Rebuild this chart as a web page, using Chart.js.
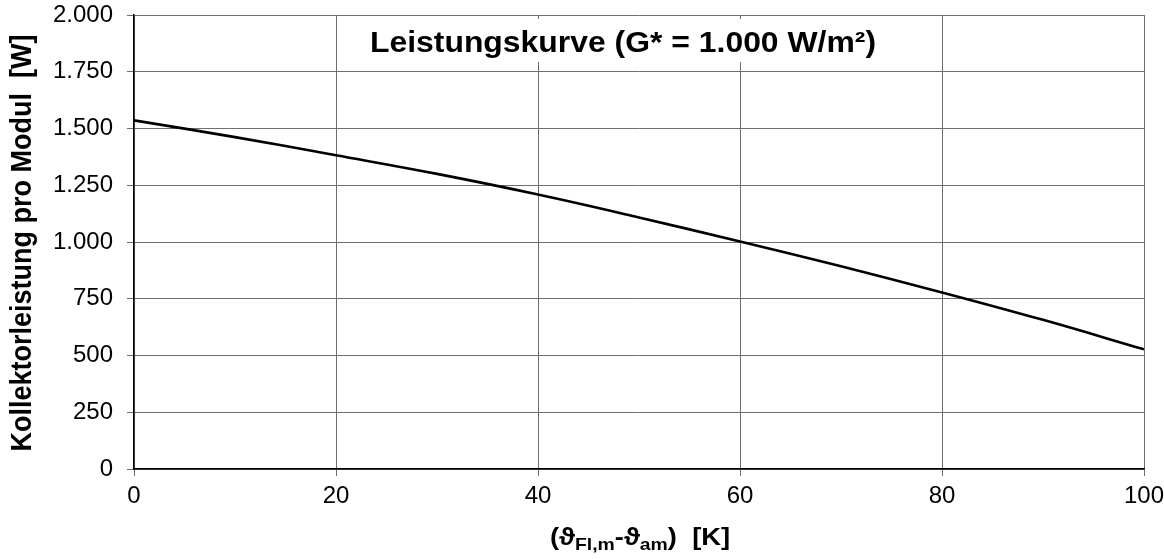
<!DOCTYPE html>
<html>
<head>
<meta charset="utf-8">
<script src="https://cdn.jsdelivr.net/npm/chart.js@4/dist/chart.umd.min.js"></script>
<style>
  html, body { margin: 0; padding: 0; background: #fff; }
  #wrap { width: 1164px; height: 559px; position: relative; }
</style>
</head>
<body>
<div id="wrap"><canvas id="chart"></canvas></div>
<script>
// Temperaturdifferenz (K) und Kollektorleistung pro Modul (W)
const deltaT = [0, 10, 20, 30, 40, 50, 60, 70, 80, 90, 100];
const leistung = [1536, 1462, 1382, 1300, 1209, 1108, 1002, 893, 778, 657, 527];

const xTicks = [0, 20, 40, 60, 80, 100];
const yTicks = [0, 250, 500, 750, 1000, 1250, 1500, 1750, 2000];

const chartTitle = 'Leistungskurve (G* = 1.000 W/m²)';
const yTitle = 'Kollektorleistung pro Modul  [W]';
// x-axis title pieces: [text, subscript?]
const xTitleParts = [['(ϑ', false], ['Fl,m', true], ['-ϑ', false], ['am', true], [')  [K]', false]];

const FONT = '"Liberation Sans", Arial, Helvetica, sans-serif';
const GRID = '#6f6f6f';

function fmtDE(v) {
  return String(v).replace(/\B(?=(\d{3})+(?!\d))/g, '.');
}

const labelsPlugin = {
  id: 'labels',
  afterDraw(chart) {
    const ctx = chart.ctx;
    const area = chart.chartArea;
    ctx.save();

    // Titel im Diagramm mit weißem Hintergrund
    ctx.font = 'bold 29px ' + FONT;
    const sx = 1.1;
    const tw = ctx.measureText(chartTitle).width * sx;
    const cx = 623;
    ctx.fillStyle = '#fff';
    ctx.fillRect(cx - tw / 2 - 8, 19, tw + 16, 43);
    ctx.fillStyle = '#000';
    ctx.textAlign = 'left';
    ctx.textBaseline = 'alphabetic';
    ctx.save();
    ctx.translate(cx - tw / 2, 52);
    ctx.scale(sx, 1);
    ctx.fillText(chartTitle, 0, 0);
    ctx.restore();

    // y-Achsentitel
    ctx.save();
    ctx.font = 'bold 27px ' + FONT;
    ctx.translate(31, (area.top + area.bottom) / 2 + 1);
    ctx.rotate(-Math.PI / 2);
    ctx.scale(1, 1.1);
    ctx.textAlign = 'center';
    ctx.textBaseline = 'alphabetic';
    ctx.fillText(yTitle, 0, 0);
    ctx.restore();

    // x-Achsentitel mit Indizes
    const sxx = 1.14;
    const mainFont = 'bold 24px ' + FONT;
    const subFont = 'bold 17px ' + FONT;
    let total = 0;
    xTitleParts.forEach(([t, sub]) => {
      ctx.font = sub ? subFont : mainFont;
      total += ctx.measureText(t).width * sxx;
    });
    let x = 640 - total / 2;
    const base = 545;
    xTitleParts.forEach(([t, sub]) => {
      ctx.font = sub ? subFont : mainFont;
      ctx.save();
      ctx.translate(x, sub ? base + 5 : base);
      ctx.scale(sxx, 1);
      ctx.fillText(t, 0, 0);
      ctx.restore();
      x += ctx.measureText(t).width * sxx;
    });

    ctx.restore();
  }
};

new Chart(document.getElementById('chart'), {
  type: 'line',
  data: {
    datasets: [{
      data: deltaT.map((t, i) => ({ x: t, y: leistung[i] })),
      borderColor: '#000',
      borderWidth: 2.6,
      pointRadius: 0,
      tension: 0.4,
      fill: false
    }]
  },
  options: {
    responsive: true,
    maintainAspectRatio: false,
    animation: false,
    devicePixelRatio: 1,
    layout: { padding: { left: 0, right: 20, top: 15, bottom: 0 } },
    plugins: { legend: { display: false }, tooltip: { enabled: false }, title: { display: false } },
    scales: {
      x: {
        type: 'linear',
        min: 0, max: 100,
        afterBuildTicks(scale) { scale.ticks = xTicks.map(v => ({ value: v })); },
        afterFit(scale) { scale.height = 90; scale.paddingLeft = 0; scale.paddingRight = 0; },
        ticks: { color: '#000', font: { family: FONT, size: 24 }, padding: 6, maxRotation: 0 },
        grid: { color: GRID, lineWidth: 1, tickLength: 7, tickColor: GRID },
        border: { color: '#000', width: 1.5 }
      },
      y: {
        min: 0, max: 2000,
        afterBuildTicks(scale) { scale.ticks = yTicks.map(v => ({ value: v })); },
        afterFit(scale) { scale.width = 134; scale.paddingTop = 0; scale.paddingBottom = 0; },
        ticks: { color: '#000', font: { family: FONT, size: 24 }, padding: 14, callback: v => fmtDE(v) },
        grid: { color: GRID, lineWidth: 1, tickLength: 7, tickColor: GRID },
        border: { color: '#000', width: 1.5 }
      }
    }
  },
  plugins: [labelsPlugin]
});
</script>
</body>
</html>
